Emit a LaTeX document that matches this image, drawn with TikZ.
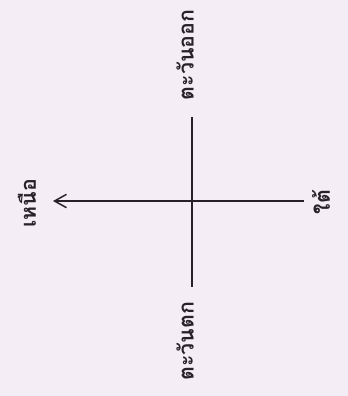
\documentclass[tikz,border=0pt]{standalone}
\usepackage{fontspec}
\newfontfamily\thaifont[Script=Thai]{Loma}
\usetikzlibrary{arrows.meta, positioning}
\definecolor{paper}{RGB}{244,237,246}
\definecolor{ink}{RGB}{38,34,40}
\tikzset{
	axis_line/.style={draw=ink, line width=1.1pt},
	axis_arrow/.style={axis_line, -{Straight Barb[length=9pt, width=10pt, line width=1.1pt]}},
	dir_label/.style={rotate=90, font=\thaifont\bfseries\fontsize{16}{16}\selectfont, text=ink, inner sep=0pt},
	phantom_node/.style={coordinate}
}

\begin{document}
\begin{tikzpicture}[x=0.75pt, y=-0.75pt]
	\fill[paper] (0,0) rectangle (348,396);
	\node[phantom_node] (centre) at (192,201) {};
	\node[phantom_node] (east_end) at (192,117) {};
	\node[phantom_node] (west_end) at (192,287) {};
	\node[phantom_node] (south_end) at (304,201) {};
	\node[phantom_node] (north_tip) at (53,201) {};
	\draw[axis_line] (east_end) -- (centre) -- (west_end);
	\draw[axis_arrow] (south_end) -- (north_tip);
	\node[dir_label] (north) at (27,203) {เหนือ};
	\node[dir_label] (south) at (321,202) {ใต้};
	\node[dir_label] (east) at (185,55) {ตะวันออก};
	\node[dir_label] (west) at (185,341) {ตะวันตก};
\end{tikzpicture}
\end{document}
